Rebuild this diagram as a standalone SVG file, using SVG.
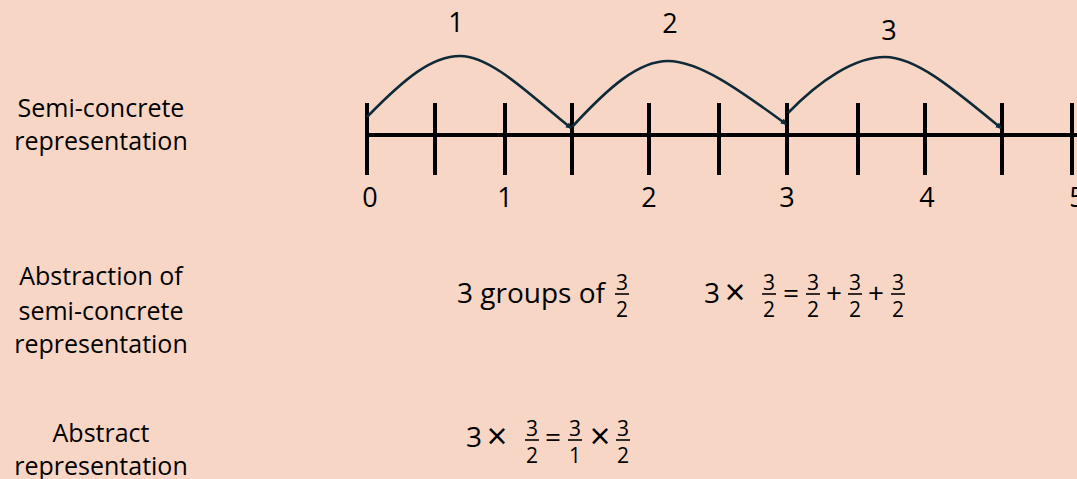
<svg xmlns="http://www.w3.org/2000/svg" width="1077" height="479" viewBox="0 0 1077 479">
<style>
.lbl{font-family:"Open Sans","Liberation Sans",sans-serif;font-size:25px;fill:#000;text-anchor:middle}
.num{font-family:"Open Sans","Liberation Sans",sans-serif;font-size:27px;fill:#000;text-anchor:middle}
.eq{font-family:"Open Sans","Liberation Sans",sans-serif;font-size:28px;fill:#000}
.op{font-family:"Open Sans","Liberation Sans",sans-serif;font-size:28px;fill:#000;text-anchor:middle}
.x{font-family:"Open Sans","Liberation Sans",sans-serif;font-size:36px;fill:#000;text-anchor:middle}
.fr{font-family:"Open Sans","Liberation Sans",sans-serif;font-size:21px;fill:#000;text-anchor:middle}
.bar{stroke:#000;stroke-width:1.6}
.axis{stroke:#000;stroke-width:4;fill:none}
.tick{stroke:#000;stroke-width:4}
.arc{stroke:#0e2a38;stroke-width:2.6;fill:none;marker-end:url(#ah)}
</style>
<defs>
<marker id="ah" viewBox="0 0 10 10" refX="8" refY="5" markerWidth="2.4" markerHeight="2.4" orient="auto" markerUnits="strokeWidth">
<path d="M0,0 L10,5 L0,10 z" fill="#0e2a38"/>
</marker>
</defs>
<rect width="1077" height="479" fill="#f7d6c5"/>

<g id="label-semi-concrete">
<text class="lbl" x="101" y="117">Semi-concrete</text>
<text class="lbl" x="101" y="150">representation</text>
</g>
<g id="label-abstraction">
<text class="lbl" x="101" y="285">Abstraction of</text>
<text class="lbl" x="101" y="320">semi-concrete</text>
<text class="lbl" x="101" y="353">representation</text>
</g>
<g id="label-abstract">
<text class="lbl" x="101" y="442">Abstract</text>
<text class="lbl" x="101" y="475">representation</text>
</g>

<g id="number-line">
<line class="axis" x1="367" y1="135" x2="1077" y2="135"/>
<line class="tick" x1="367" y1="103" x2="367" y2="175"/>
<line class="tick" x1="435" y1="103" x2="435" y2="175"/>
<line class="tick" x1="505" y1="103" x2="505" y2="175"/>
<line class="tick" x1="572" y1="103" x2="572" y2="175"/>
<line class="tick" x1="649" y1="103" x2="649" y2="175"/>
<line class="tick" x1="719" y1="103" x2="719" y2="175"/>
<line class="tick" x1="787" y1="103" x2="787" y2="175"/>
<line class="tick" x1="858" y1="103" x2="858" y2="175"/>
<line class="tick" x1="925" y1="103" x2="925" y2="175"/>
<line class="tick" x1="1002" y1="103" x2="1002" y2="175"/>
<line class="tick" x1="1072" y1="103" x2="1072" y2="175"/>
<text class="num" x="370" y="207">0</text>
<text class="num" x="505" y="207">1</text>
<text class="num" x="649" y="207">2</text>
<text class="num" x="787" y="207">3</text>
<text class="num" x="927" y="207">4</text>
<text class="num" x="1077" y="207">5</text>
</g>

<g id="connectors">
<path class="arc" d="M367,117 C405,78 432,56 460,56 C492,56 532,97 571,128"/>
<path class="arc" d="M572,127 C608,88 638,61 668,61 C700,61 742,92 786,124"/>
<path class="arc" d="M788,113 C820,80 855,57 885,57 C917,57 957,92 1001,128"/>
</g>

<g id="jump-labels">
<text class="num" x="456" y="32">1</text>
<text class="num" x="670" y="33">2</text>
<text class="num" x="889" y="40">3</text>
</g>

<g id="eq-groups">
<text class="eq" x="457" y="303">3 groups of</text>
<text class="fr" x="622" y="290">3</text>
<line class="bar" x1="615" y1="294" x2="629" y2="294"/>
<text class="fr" x="622" y="317">2</text>
</g>

<g id="eq-sum">
<text class="eq" x="704" y="303">3</text>
<text class="x" x="735" y="305">×</text>
<text class="fr" x="769" y="290">3</text>
<line class="bar" x1="762" y1="294" x2="776" y2="294"/>
<text class="fr" x="769" y="317">2</text>
<text class="op" x="791" y="303">=</text>
<text class="fr" x="813" y="290">3</text>
<line class="bar" x1="806" y1="294" x2="820" y2="294"/>
<text class="fr" x="813" y="317">2</text>
<text class="op" x="834" y="303">+</text>
<text class="fr" x="855" y="290">3</text>
<line class="bar" x1="848" y1="294" x2="862" y2="294"/>
<text class="fr" x="855" y="317">2</text>
<text class="op" x="876" y="303">+</text>
<text class="fr" x="898" y="290">3</text>
<line class="bar" x1="891" y1="294" x2="905" y2="294"/>
<text class="fr" x="898" y="317">2</text>
</g>

<g id="eq-abstract">
<text class="eq" x="466" y="447">3</text>
<text class="x" x="497" y="449">×</text>
<text class="fr" x="532" y="436">3</text>
<line class="bar" x1="525" y1="440" x2="539" y2="440"/>
<text class="fr" x="532" y="463">2</text>
<text class="op" x="553" y="447">=</text>
<text class="fr" x="575" y="436">3</text>
<line class="bar" x1="568" y1="440" x2="582" y2="440"/>
<text class="fr" x="575" y="463">1</text>
<text class="x" x="600" y="449">×</text>
<text class="fr" x="623" y="436">3</text>
<line class="bar" x1="616" y1="440" x2="630" y2="440"/>
<text class="fr" x="623" y="463">2</text>
</g>
</svg>
